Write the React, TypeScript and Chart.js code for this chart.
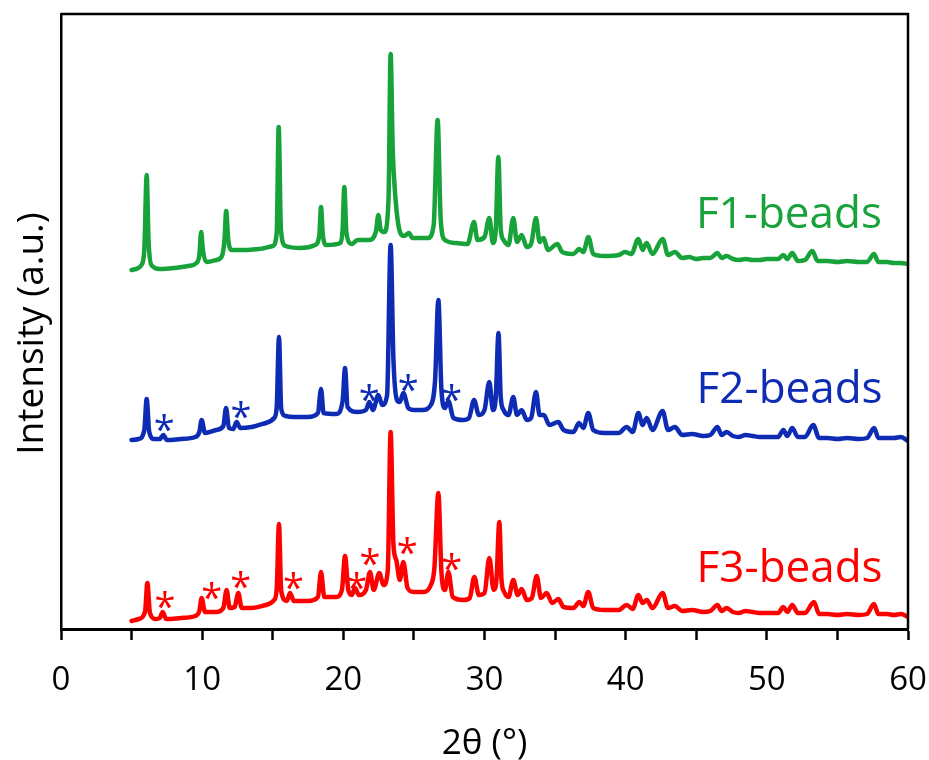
import React, { useEffect, useRef } from "react";
import { Chart, registerables } from "chart.js";

Chart.register(...registerables);

// ---- Data (2θ in degrees, intensity in arbitrary units; traces are offset vertically) ----
const SERIES_NAMES = ["F1-beads", "F2-beads", "F3-beads"];
const SERIES_COLORS = ["#17A23A", "#0E2BB3", "#FF0000"];

const F1_POINTS: [number, number][] = [
  [5.0, 359], [5.3, 360], [5.7, 364], [5.9, 379], [6.07, 454], [6.2, 389], [6.4, 364], [7.0, 360],
  [8.0, 361], [9.0, 363], [9.6, 366], [9.8, 374], [9.93, 397], [10.05, 379], [10.3, 367], [11.0, 369],
  [11.4, 373], [11.58, 389], [11.7, 418], [11.85, 389], [12.1, 379], [13.0, 379], [14.0, 380], [15.0, 383],
  [15.28, 396], [15.42, 502], [15.58, 399], [15.9, 383], [17.0, 381], [18.0, 384], [18.3, 394], [18.42, 422],
  [18.55, 394], [18.8, 384], [19.8, 386], [19.95, 400], [20.07, 442], [20.22, 396], [20.6, 385], [21.0, 389],
  [21.8, 389], [22.3, 397], [22.48, 414], [22.65, 399], [22.9, 397], [23.2, 429], [23.35, 575], [23.5, 479],
  [23.65, 439], [23.9, 404], [24.3, 393], [24.65, 396], [24.9, 391], [25.55, 391], [26.0, 391], [26.4, 404],
  [26.68, 509], [26.9, 409], [27.2, 389], [28.0, 386], [28.8, 385], [29.26, 407], [29.5, 389], [30.0, 392],
  [30.34, 411], [30.6, 386], [30.8, 400], [30.98, 472], [31.15, 400], [31.35, 389], [31.7, 384], [32.04, 411],
  [32.3, 387], [32.63, 394], [33.0, 382], [33.3, 385], [33.65, 411], [33.9, 387], [34.17, 391], [34.5, 379],
  [35.16, 385], [35.5, 377], [36.3, 375], [36.7, 380], [37.0, 377], [37.36, 392], [37.7, 375], [38.5, 373],
  [39.5, 374], [39.95, 377], [40.4, 375], [40.9, 390], [41.2, 379], [41.48, 386], [41.9, 375], [42.62, 390],
  [43.0, 374], [43.49, 377], [44.0, 371], [44.5, 372], [45.0, 370], [45.5, 371], [46.0, 371], [46.5, 376],
  [46.8, 371], [47.15, 373], [47.6, 370], [48.0, 369], [48.5, 370], [49.0, 369], [49.5, 369], [50.0, 370],
  [50.8, 370], [51.17, 374], [51.45, 370], [51.8, 376], [52.2, 368], [52.7, 369], [53.22, 378], [53.6, 368],
  [54.3, 368], [55.0, 367], [55.7, 368], [56.5, 367], [57.1, 367], [57.59, 375], [57.9, 367], [58.5, 367],
  [59.0, 366], [59.5, 366], [60.0, 365],
];

const F2_POINTS: [number, number][] = [
  [5.0, 189], [5.5, 190], [5.9, 199], [6.07, 230], [6.25, 197], [6.6, 190], [7.0, 190], [7.25, 194],
  [7.5, 189], [8.5, 190], [9.5, 192], [9.8, 197], [9.96, 209], [10.2, 196], [11.0, 199], [11.5, 203],
  [11.69, 221], [11.9, 201], [12.2, 200], [12.44, 207], [12.7, 201], [13.5, 202], [14.5, 206], [15.1, 211],
  [15.28, 222], [15.44, 292], [15.6, 220], [15.9, 213], [16.5, 212], [17.5, 212], [18.2, 216], [18.42, 240],
  [18.6, 216], [19.5, 215], [19.95, 228], [20.12, 261], [20.3, 222], [21.0, 217], [21.6, 219], [21.84, 227],
  [22.1, 219], [22.48, 234], [22.75, 224], [23.1, 234], [23.35, 384], [23.55, 269], [23.8, 229], [24.0, 227],
  [24.25, 236], [24.6, 221], [25.0, 219], [25.6, 219], [26.2, 224], [26.5, 249], [26.73, 329], [26.95, 239],
  [27.2, 221], [27.44, 228], [27.8, 211], [28.5, 209], [28.9, 211], [29.26, 229], [29.6, 214], [30.0, 219],
  [30.34, 247], [30.6, 219], [30.8, 232], [30.99, 296], [31.15, 232], [31.35, 219], [31.7, 214], [32.04, 232],
  [32.3, 214], [32.63, 219], [33.0, 209], [33.3, 211], [33.65, 237], [33.9, 214], [34.2, 214], [34.6, 204],
  [35.23, 207], [35.6, 199], [36.3, 197], [36.7, 206], [37.0, 201], [37.35, 216], [37.7, 199], [38.5, 196],
  [39.5, 196], [40.07, 202], [40.5, 197], [40.9, 216], [41.2, 204], [41.49, 211], [41.9, 199], [42.62, 218],
  [43.0, 199], [43.49, 202], [44.0, 194], [44.7, 195], [45.5, 193], [46.0, 194], [46.5, 202], [46.8, 194],
  [47.15, 197], [47.6, 193], [48.0, 192], [48.5, 194], [49.0, 193], [49.5, 192], [50.0, 192], [50.8, 192],
  [51.17, 199], [51.45, 193], [51.8, 201], [52.2, 192], [52.7, 192], [53.29, 204], [53.7, 191], [54.3, 191],
  [55.0, 190], [55.7, 191], [56.5, 190], [57.1, 191], [57.61, 201], [57.9, 191], [58.5, 191], [59.0, 191],
  [59.5, 192], [60.0, 188],
];

const F3_POINTS: [number, number][] = [
  [5.0, 8], [5.5, 10], [5.95, 17], [6.12, 46], [6.3, 16], [6.7, 10], [7.0, 11], [7.2, 17],
  [7.45, 10], [8.5, 11], [9.5, 13], [9.8, 18], [9.96, 31], [10.2, 17], [11.0, 17], [11.5, 21],
  [11.73, 39], [11.95, 21], [12.3, 22], [12.56, 36], [12.8, 21], [13.5, 21], [14.5, 24], [15.1, 29],
  [15.28, 40], [15.44, 105], [15.6, 38], [16.0, 28], [16.22, 36], [16.5, 28], [17.5, 28], [18.2, 32],
  [18.42, 57], [18.65, 32], [19.5, 32], [19.9, 39], [20.12, 73], [20.35, 39], [20.6, 34], [20.83, 41],
  [21.1, 34], [21.6, 39], [21.89, 57], [22.15, 39], [22.55, 56], [22.85, 44], [23.15, 59], [23.35, 197],
  [23.55, 84], [23.75, 69], [24.0, 49], [24.25, 67], [24.55, 41], [25.0, 37], [25.6, 37], [26.2, 44],
  [26.45, 61], [26.73, 136], [26.95, 57], [27.2, 39], [27.44, 57], [27.75, 32], [28.5, 29], [28.95, 31],
  [29.28, 52], [29.6, 34], [30.0, 36], [30.34, 71], [30.65, 39], [30.85, 50], [31.05, 107], [31.2, 50],
  [31.4, 37], [31.7, 32], [32.04, 49], [32.35, 34], [32.63, 40], [33.0, 29], [33.35, 31], [33.7, 53],
  [34.0, 31], [34.4, 36], [34.8, 26], [35.23, 30], [35.6, 22], [36.3, 21], [36.72, 27], [37.0, 23],
  [37.35, 37], [37.7, 21], [38.5, 19], [39.5, 19], [40.07, 24], [40.5, 20], [40.9, 34], [41.2, 26],
  [41.49, 29], [41.9, 21], [42.62, 36], [43.0, 21], [43.49, 23], [44.0, 18], [44.7, 19], [45.5, 17],
  [46.0, 18], [46.5, 24], [46.8, 18], [47.15, 21], [47.6, 17], [48.0, 16], [48.5, 18], [49.0, 17],
  [49.5, 16], [50.0, 16], [50.8, 16], [51.17, 22], [51.45, 17], [51.8, 24], [52.2, 16], [52.7, 16],
  [53.34, 27], [53.7, 15], [54.3, 15], [55.0, 14], [55.7, 15], [56.5, 14], [57.1, 15], [57.59, 25],
  [57.9, 15], [58.5, 15], [59.0, 14], [59.5, 15], [60.0, 12],
];

// asterisks marking extra reflections: [2θ, intensity]
const F2_STARS: [number, number][] = [[7.32, 207], [12.75, 220], [21.84, 237], [24.6, 247], [27.68, 237]];
const F3_STARS: [number, number][] = [
  [7.37, 30], [10.67, 39], [12.73, 50], [16.46, 49], [20.95, 49], [21.89, 73], [24.53, 84], [27.68, 68],
];

const X_TICK_STEP = 5;
const X_LABEL_STEP = 10;
const X_MIN = 0;
const X_MAX = 60;
const Y_MAX = 615;
const X_TITLE = "2θ (°)";
const Y_TITLE = "Intensity (a.u.)";

// label anchors (2θ, intensity of baseline), right aligned
const LABEL_ANCHORS: [number, number][] = [[58.15, 401], [58.2, 226], [58.2, 47]];

const FONT = '"Open Sans", "Noto Sans", sans-serif';

const overlayPlugin = {
  id: "overlay",
  afterDatasetsDraw(chart: any) {
    const { ctx, chartArea, scales } = chart;
    const xs = scales.x;
    const ys = scales.y;
    ctx.save();
    // top and right frame
    ctx.strokeStyle = "#000";
    ctx.lineWidth = 2.5;
    ctx.beginPath();
    ctx.moveTo(chartArea.left, chartArea.top);
    ctx.lineTo(chartArea.right, chartArea.top);
    ctx.lineTo(chartArea.right, chartArea.bottom);
    ctx.stroke();

    // asterisks
    const starSize = 38;
    ctx.font = `${starSize}px ${FONT}`;
    ctx.textAlign = "center";
    ctx.textBaseline = "alphabetic";
    const starSets: [[number, number][], string][] = [
      [F2_STARS, SERIES_COLORS[1]],
      [F3_STARS, SERIES_COLORS[2]],
    ];
    for (const [pts, color] of starSets) {
      ctx.fillStyle = color;
      for (const [t, v] of pts) {
        ctx.fillText("*", xs.getPixelForValue(t), ys.getPixelForValue(v) + starSize * 0.56);
      }
    }

    // series labels
    ctx.font = `44px ${FONT}`;
    ctx.textAlign = "right";
    SERIES_NAMES.forEach((name, i) => {
      ctx.fillStyle = SERIES_COLORS[i];
      const [t, v] = LABEL_ANCHORS[i];
      ctx.fillText(name, xs.getPixelForValue(t), ys.getPixelForValue(v));
    });

    // y-axis title (rotated text)
    ctx.fillStyle = "#000";
    ctx.font = `37px ${FONT}`;
    ctx.textAlign = "center";
    ctx.textBaseline = "alphabetic";
    ctx.translate(chartArea.left - 18, (chartArea.top + chartArea.bottom) / 2 + 12);
    ctx.rotate(-Math.PI / 2);
    ctx.fillText(Y_TITLE, 0, 0);
    ctx.restore();
  },
};

export default function App() {
  const canvasRef = useRef<HTMLCanvasElement | null>(null);

  useEffect(() => {
    if (!canvasRef.current) return;
    const seriesPoints = [F1_POINTS, F2_POINTS, F3_POINTS];
    const chart = new Chart(canvasRef.current, {
      type: "line",
      data: {
        datasets: seriesPoints.map((pts, i) => ({
          label: SERIES_NAMES[i],
          data: pts.map(([x, y]) => ({ x, y })),
          borderColor: SERIES_COLORS[i],
          backgroundColor: SERIES_COLORS[i],
          borderWidth: 4.5,
          pointRadius: 0,
          cubicInterpolationMode: "monotone" as const,
          borderJoinStyle: "round" as const,
          borderCapStyle: "round" as const,
          fill: false,
        })),
      },
      options: {
        animation: false,
        responsive: true,
        maintainAspectRatio: false,
        layout: { padding: { left: 0, right: 21, top: 14, bottom: 0 } },
        plugins: { legend: { display: false }, tooltip: { enabled: false } },
        scales: {
          x: {
            type: "linear",
            min: X_MIN,
            max: X_MAX,
            position: "bottom",
            grid: {
              display: true,
              drawOnChartArea: false,
              drawTicks: true,
              tickLength: 11,
              tickWidth: 2.5,
              tickColor: "#000",
            },
            border: { display: true, color: "#000", width: 3 },
            ticks: {
              stepSize: X_TICK_STEP,
              autoSkip: false,
              maxRotation: 0,
              color: "#000",
              padding: 21,
              font: { family: FONT, size: 33 },
              callback: (v: any) => (Number(v) % X_LABEL_STEP === 0 ? String(v) : ""),
            },
            title: {
              display: true,
              text: X_TITLE,
              color: "#000",
              font: { family: FONT, size: 35 },
              padding: { top: 0, bottom: -5 },
            },
            afterFit: (scale: any) => {
              scale.height = 131;
              scale.paddingLeft = 0;
              scale.paddingRight = 0;
            },
          },
          y: {
            type: "linear",
            min: 0,
            max: Y_MAX,
            position: "left",
            grid: { display: false, drawTicks: false },
            border: { display: true, color: "#000", width: 2.5 },
            ticks: { display: false },
            title: { display: false },
            afterFit: (scale: any) => {
              scale.width = 61;
            },
          },
        },
      },
      plugins: [overlayPlugin],
    });
    return () => chart.destroy();
  }, []);

  return (
    <div style={{ position: "fixed", left: 0, top: 0, width: 929, height: 760, background: "#fff" }}>
      <canvas ref={canvasRef} />
    </div>
  );
}
